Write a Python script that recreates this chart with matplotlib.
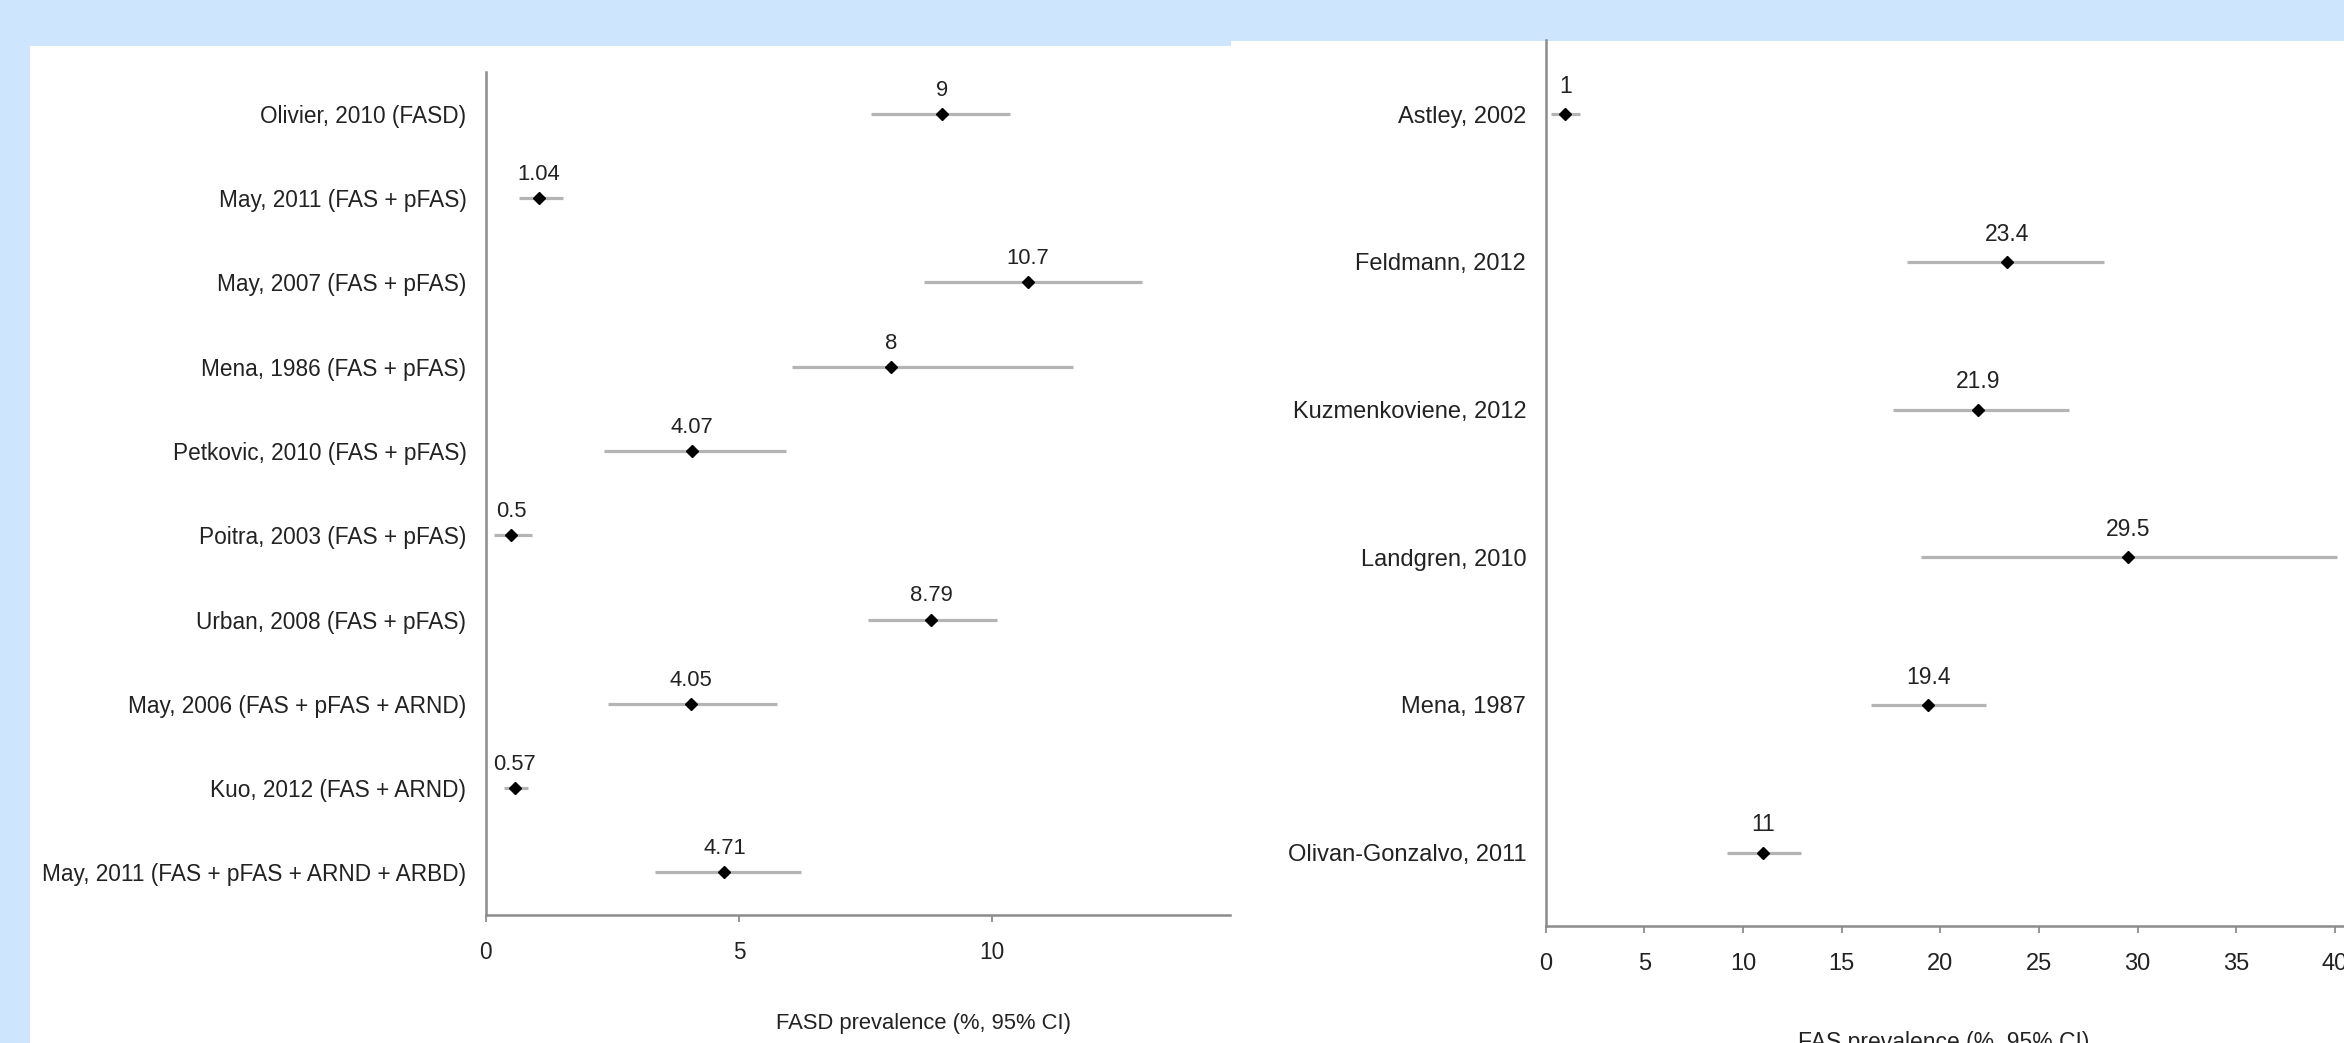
import matplotlib.pyplot as plt
from matplotlib.patches import Rectangle

plt.rcParams['font.family'] = ['Liberation Sans', 'DejaVu Sans']

# ========== DATA ==========
# Left panel: FASD prevalence
left_studies = [
    "Olivier, 2010 (FASD)",
    "May, 2011 (FAS + pFAS)",
    "May, 2007 (FAS + pFAS)",
    "Mena, 1986 (FAS + pFAS)",
    "Petkovic, 2010 (FAS + pFAS)",
    "Poitra, 2003 (FAS + pFAS)",
    "Urban, 2008 (FAS + pFAS)",
    "May, 2006 (FAS + pFAS + ARND)",
    "Kuo, 2012 (FAS + ARND)",
    "May, 2011 (FAS + pFAS + ARND + ARBD)",
]
left_est = [9, 1.04, 10.7, 8, 4.07, 0.5, 8.79, 4.05, 0.57, 4.71]
left_lo = [7.6, 0.65, 8.65, 6.05, 2.33, 0.15, 7.55, 2.42, 0.35, 3.33]
left_hi = [10.35, 1.53, 12.95, 11.6, 5.93, 0.91, 10.1, 5.75, 0.83, 6.22]
left_text = ["9", "1.04", "10.7", "8", "4.07", "0.5", "8.79", "4.05", "0.57", "4.71"]

# Right panel: FAS prevalence
right_studies = [
    "Astley, 2002",
    "Feldmann, 2012",
    "Kuzmenkoviene, 2012",
    "Landgren, 2010",
    "Mena, 1987",
    "Olivan-Gonzalvo, 2011",
]
right_est = [1, 23.4, 21.9, 29.5, 19.4, 11]
right_lo = [0.25, 18.3, 17.6, 19.0, 16.5, 9.2]
right_hi = [1.75, 28.3, 26.5, 40.1, 22.3, 12.95]
right_text = ["1", "23.4", "21.9", "29.5", "19.4", "11"]

BG = '#cde6fd'
CI_COLOR = '#b4b4b4'
SPINE = '#8c8c8c'
TXT = '#222222'

fig = plt.figure(figsize=(23.44, 10.43), dpi=100)
fig.patch.set_facecolor(BG)
fig.add_artist(Rectangle((0.0128, 0), 0.5125, 0.956, transform=fig.transFigure,
                         facecolor='white', edgecolor='none', zorder=-10))
fig.add_artist(Rectangle((0.525, 0), 0.48, 0.961, transform=fig.transFigure,
                         facecolor='white', edgecolor='none', zorder=-10))


def forest(ax, studies, est, lo, hi, texts, xlim, xticks, xlabel, label_xy,
           label_off, fs):
    ax.set_facecolor('none')
    ys = list(range(len(studies)))
    for y, e, l, h, t in zip(ys, est, lo, hi, texts):
        ax.plot([l, h], [y, y], color=CI_COLOR, lw=2.3, solid_capstyle='butt', zorder=2)
        ax.plot(e, y, marker='D', color='black', ms=6.5, zorder=3)
        ax.annotate(t, xy=(e, y), xytext=(0, label_off), textcoords='offset points',
                    ha='center', va='center', fontsize=fs - 0.5, color=TXT)
    ax.set_ylim(len(studies) - 0.5, -0.5)
    ax.set_xlim(*xlim)
    ax.set_yticks(ys)
    ax.set_yticklabels(studies, fontsize=fs, color=TXT)
    ax.set_xticks(xticks)
    ax.set_xticklabels([str(v) for v in xticks], fontsize=fs, color=TXT)
    ax.tick_params(axis='y', length=0, pad=14)
    ax.tick_params(axis='x', length=5, width=1.3, color=SPINE, pad=14)
    for s in ['top', 'right']:
        ax.spines[s].set_visible(False)
    for s in ['left', 'bottom']:
        ax.spines[s].set_color(SPINE)
        ax.spines[s].set_linewidth(1.8)
    ax.set_xlabel(xlabel, fontsize=fs - 0.5, color=TXT)
    ax.xaxis.set_label_coords(*label_xy)


ax1 = fig.add_axes([0.2073, 0.1232, 0.3176, 0.808])
forest(ax1, left_studies, left_est, left_lo, left_hi, left_text,
       (0, 14.7), [0, 5, 10], "FASD prevalence (%, 95% CI)", (0.588, -0.117), 17, 16.3)

ax2 = fig.add_axes([0.6594, 0.1117, 0.3536, 0.8496])
forest(ax2, right_studies, right_est, right_lo, right_hi, right_text,
       (0, 42), [0, 5, 10, 15, 20, 25, 30, 35, 40], "FAS prevalence (%, 95% CI)",
       (0.48, -0.118), 20, 17)

fig.savefig("out.png", dpi=100, facecolor=fig.get_facecolor())
